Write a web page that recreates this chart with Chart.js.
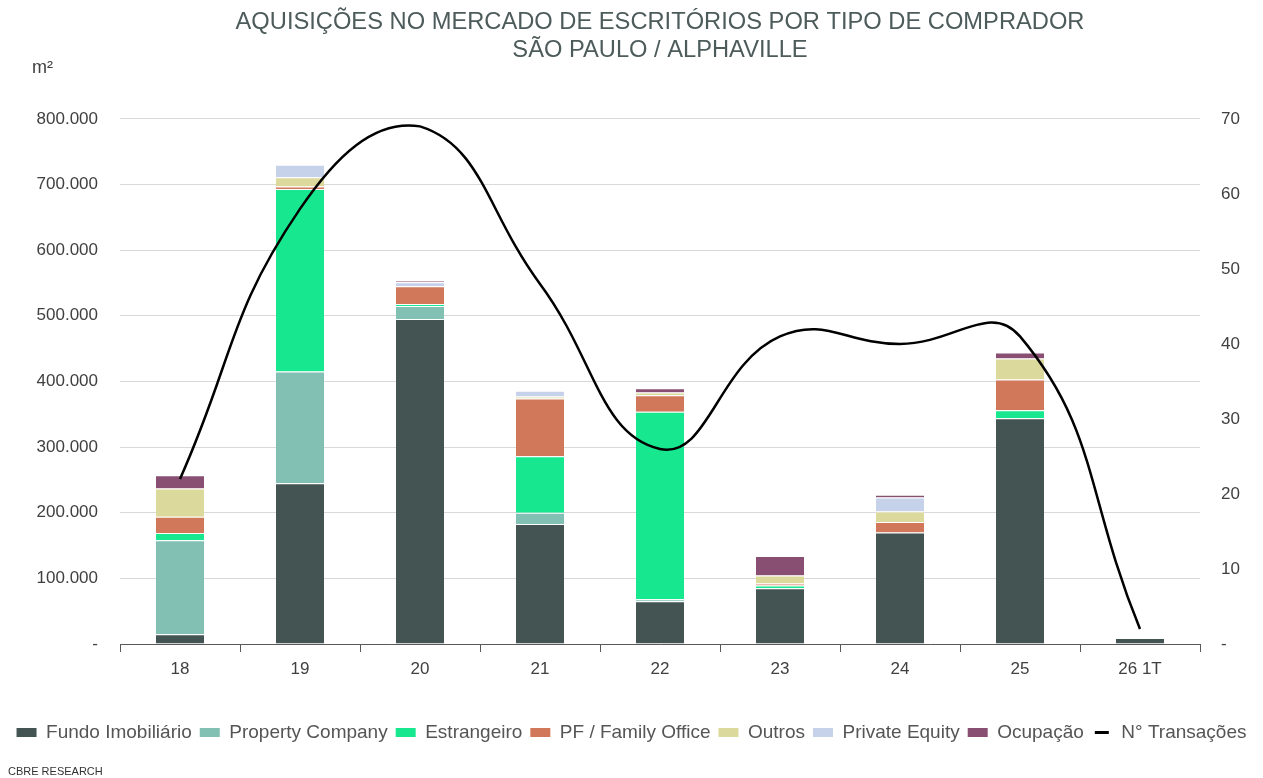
<!DOCTYPE html>
<html>
<head>
<meta charset="utf-8">
<script src="https://cdn.jsdelivr.net/npm/chart.js@4/dist/chart.umd.min.js"></script>
<style>
  html, body { margin: 0; padding: 0; background: #fff; }
  #wrap { width: 1263px; height: 778px; position: relative; }
</style>
</head>
<body>
<div id="wrap"><canvas id="buyerChart"></canvas></div>
<script>
// anos (26 1T = primeiro trimestre de 2026)
const categories = ['18', '19', '20', '21', '22', '23', '24', '25', '26 1T'];

// m² adquiridos por tipo de comprador
const fundoImobiliario = [15000, 245000, 495000, 183000, 65000, 85000, 170000, 344000, 9000];
const propertyCompany  = [143000, 170000, 20000, 17000, 3000, 0, 0, 0, 0];
const estrangeiro      = [11000, 278000, 3000, 86000, 286000, 4000, 0, 12000, 0];
const pfFamilyOffice   = [25000, 4000, 27000, 88000, 25000, 3000, 16000, 47000, 0];
const outros           = [43000, 14000, 0, 3000, 4000, 12500, 16000, 32000, 0];
const privateEquity    = [0, 19000, 6000, 9000, 0, 0, 21000, 0, 0];
const ocupacao         = [20000, 0, 2500, 0, 6500, 29500, 4500, 9000, 0];

// número de transações (eixo direito)
const nTransacoes = [22, 58, 69, 48, 26, 41, 40, 41, 2];

const FONT = "'Liberation Sans', Arial, sans-serif";

function fmtBR(v) {
    if (v === 0) return '-';
    return String(v).replace(/\B(?=(\d{3})+(?!\d))/g, '.');
}

function barSet(label, data, color) {
    return {
        type: 'bar',
        label: label,
        data: data,
        backgroundColor: color,
        borderColor: '#ffffff',
        borderWidth: { top: 1, left: 0, right: 0, bottom: 0 },
        borderSkipped: false,
        barPercentage: 0.4,
        categoryPercentage: 1,
        yAxisID: 'y',
        order: 1
    };
}

const extraText = {
    id: 'extraText',
    afterDraw(chart) {
        const ctx = chart.ctx;
        ctx.save();
        ctx.fillStyle = '#404040';
        ctx.font = "18px " + FONT;
        ctx.textBaseline = 'middle';
        ctx.textAlign = 'left';
        ctx.fillText('m²', 32, 68);
        ctx.font = "11px 'Liberation Sans Narrow', 'Liberation Sans', Arial, sans-serif";
        ctx.fillStyle = '#333';
        ctx.fillText('CBRE RESEARCH', 8, 772);
        ctx.restore();
    }
};

function initializeChart() {
    const ctx = document.getElementById('buyerChart').getContext('2d');
    const data = {
        labels: categories,
        datasets: [
            barSet('Fundo Imobiliário', fundoImobiliario, '#435453'),
            barSet('Property Company', propertyCompany, '#82c0b3'),
            barSet('Estrangeiro', estrangeiro, '#17e88f'),
            barSet('PF / Family Office', pfFamilyOffice, '#d1785a'),
            barSet('Outros', outros, '#dcd99c'),
            barSet('Private Equity', privateEquity, '#c5d2ea'),
            barSet('Ocupação', ocupacao, '#894f72'),
            {
                type: 'line',
                label: 'N° Transações',
                data: nTransacoes,
                borderColor: '#000000',
                backgroundColor: '#000000',
                borderWidth: 2.5,
                pointRadius: 0,
                tension: 0.45,
                fill: false,
                yAxisID: 'y1',
                order: 0
            }
        ]
    };

    const config = {
        data: data,
        options: {
            responsive: true,
            maintainAspectRatio: false,
            animation: false,
            layout: { padding: { top: 0, left: 0, right: 0, bottom: 26 } },
            plugins: {
                title: {
                    display: true,
                    fullSize: false,
                    text: ['AQUISIÇÕES NO MERCADO DE ESCRITÓRIOS POR TIPO DE COMPRADOR', 'SÃO PAULO / ALPHAVILLE'],
                    color: '#4d5b5b',
                    font: { family: FONT, size: 23.7, weight: 'normal', lineHeight: 1.2 },
                    padding: { top: 8, bottom: 54 }
                },
                legend: {
                    position: 'bottom',
                    labels: {
                        color: '#555555',
                        font: { family: FONT, size: 19 },
                        boxWidth: 20,
                        boxHeight: 9,
                        padding: 8,
                        sort: (a, b) => a.datasetIndex - b.datasetIndex,
                        generateLabels: function(chart) {
                            const items = Chart.defaults.plugins.legend.labels.generateLabels(chart);
                            items.forEach(function(it) {
                                if (it.datasetIndex === 7) {
                                    // draw as a short black line
                                    it.fillStyle = '#000000';
                                    it.strokeStyle = '#ffffff';
                                    it.lineWidth = 6;
                                } else {
                                    it.lineWidth = 0;
                                }
                            });
                            return items;
                        }
                    }
                },
                tooltip: { enabled: false }
            },
            scales: {
                x: {
                    stacked: true,
                    grid: {
                        display: true,
                        drawOnChartArea: false,
                        drawTicks: true,
                        tickLength: 8,
                        color: '#595959',
                        offset: true
                    },
                    border: { display: true, color: '#595959', width: 1 },
                    ticks: {
                        color: '#404040',
                        font: { family: FONT, size: 17 },
                        padding: 7
                    },
                    afterFit: s => { s.height = 71; }
                },
                y: {
                    stacked: true,
                    position: 'left',
                    min: 0,
                    max: 800000,
                    grid: { color: '#d9d9d9', drawTicks: false },
                    border: { display: false },
                    ticks: {
                        stepSize: 100000,
                        color: '#404040',
                        font: { family: FONT, size: 17 },
                        padding: 22,
                        callback: v => fmtBR(v)
                    },
                    afterFit: s => { s.width = 120; }
                },
                y1: {
                    position: 'right',
                    stacked: false,
                    min: 0,
                    max: 70,
                    grid: { drawOnChartArea: false, drawTicks: false },
                    border: { display: false },
                    ticks: {
                        stepSize: 10,
                        color: '#404040',
                        font: { family: FONT, size: 17 },
                        padding: 21,
                        callback: v => (v === 0 ? '-' : v)
                    },
                    afterFit: s => { s.width = 63; }
                }
            }
        },
        plugins: [extraText]
    };
    new Chart(ctx, config);
}

if (document.readyState === 'loading') {
    document.addEventListener('DOMContentLoaded', initializeChart);
} else {
    initializeChart();
}
</script>
</body>
</html>
